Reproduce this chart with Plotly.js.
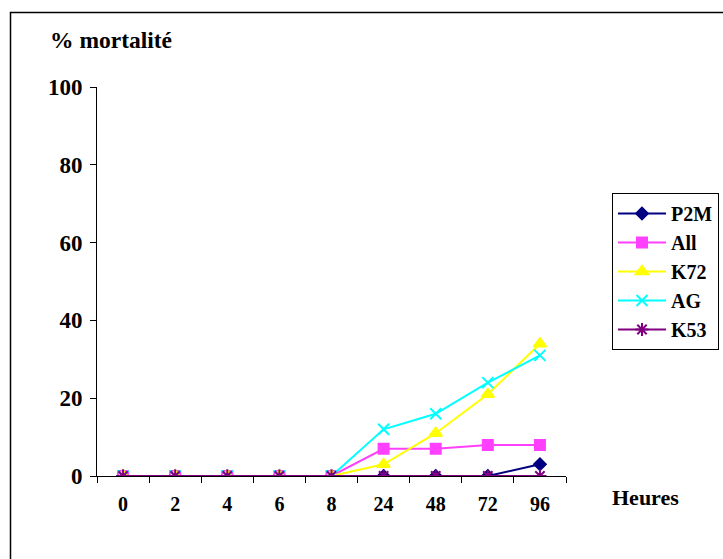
<!DOCTYPE html>
<html><head><meta charset="utf-8">
<script src="https://cdn.plot.ly/plotly-3.0.1.min.js"></script>
<style>body{margin:0;padding:0;background:#fff}#c{width:723px;height:559px}</style>
</head><body><div id="c"></div>
<script>
const hours = ['0','2','4','6','8','24','48','72','96'];
const p2m = [0,0,0,0,0,0,0,0,3];
const all = [0,0,0,0,0,7,7,8,8];
const k72 = [0,0,0,0,0,3,11,21,34];
const ag  = [0,0,0,0,0,12,16,24,31];
const k53 = [0,0,0,0,0,0,0,0,0];
const yTicks = [0,20,40,60,80,100];

const F = 'Liberation Serif';
function tr(name, y, color, symbol, size){
  return {x: hours, y: y, name: '<b>'+name+'</b>', type:'scatter', mode:'lines+markers',
    line:{color:color, width:2}, marker:{symbol:symbol, size:size, color:color, line:{color:color, width:2}}};
}
const data = [
  tr('P2M', p2m, '#000080', 'diamond', 9),
  tr('All', all, '#FF40FF', 'square', 10),
  tr('K72', k72, '#FFFF00', 'triangle-up', 11),
  tr('AG', ag, '#00FFFF', 'x-thin-open', 11),
  tr('K53', k53, '#800080', 'asterisk-open', 11)
];
const layout = {
  width:723, height:559, margin:{l:97, r:157, t:87, b:83},
  paper_bgcolor:'#fff', plot_bgcolor:'#fff', showlegend:true,
  font:{family:F, size:22, color:'#000'},
  xaxis:{type:'category', range:[-0.5,8.5], showline:true, linecolor:'#000', linewidth:1,
    ticks:'outside', tickson:'boundaries', ticklen:6, tickcolor:'#000', showgrid:false, zeroline:false,
    tickvals:hours, ticktext:hours.map(h=>'<b>'+h+'</b>'), ticklabelstandoff:10,
    tickfont:{family:F, size:20, color:'#000'}},
  yaxis:{range:[0,100], tickvals:yTicks, ticktext:yTicks.map(v=>'<b>'+v+'</b>'), showline:true, linecolor:'#000', linewidth:1,
    ticks:'outside', ticklen:6, tickcolor:'#000', showgrid:false, zeroline:false, ticklabelstandoff:3,
    tickfont:{family:F, size:23, color:'#000'}},
  legend:{xref:'container', yref:'container', x:612/723, y:1-193/559, xanchor:'left', yanchor:'top',
    bordercolor:'#000', borderwidth:1,
    font:{family:F, size:20, color:'#000'}, tracegroupgap:0, itemwidth:48},
  annotations:[
    {text:'<b>% mortalité</b>', xref:'paper', yref:'paper', x:(111-97)/469, y:(476-40)/389, showarrow:false,
     xanchor:'center', yanchor:'middle', font:{family:F, size:23.5}},
    {text:'<b>Heures</b>', xref:'paper', yref:'paper', x:(645-97)/469, y:(476-497)/389, showarrow:false,
     xanchor:'center', yanchor:'middle', font:{family:F, size:22}}
  ],
  shapes:[{type:'rect', xref:'paper', yref:'paper', x0:(10.5-97)/469, x1:(740-97)/469, y0:(476-580)/389, y1:(476-12.5)/389,
    line:{color:'#000', width:1.5}, fillcolor:'rgba(0,0,0,0)'}]
};
Plotly.newPlot('c', data, layout, {displayModeBar:false, staticPlot:true});
</script></body></html>
